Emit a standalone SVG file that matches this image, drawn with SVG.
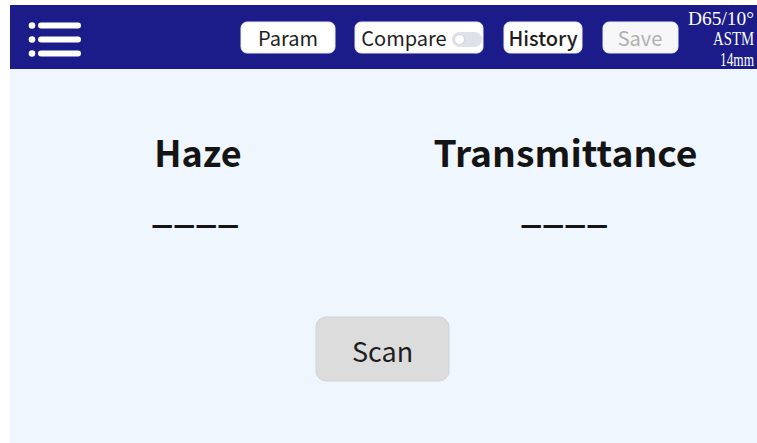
<svg xmlns="http://www.w3.org/2000/svg" width="757" height="443" viewBox="0 0 757 443">
  <style>
    .btn { fill: #ffffff; stroke: #e6e8ef; stroke-width: 1; }
    .btxt { font-family: "Noto Sans CJK SC", "Noto Sans", sans-serif; font-size: 20px; fill: #1e1e1e; text-anchor: middle; }
    .spec { font-family: "Liberation Serif", serif; font-size: 18px; fill: #ffffff; text-anchor: end; }
    .label { font-family: "Noto Sans CJK SC", "Noto Sans", sans-serif; font-size: 36px; font-weight: 700; fill: #141414; text-anchor: middle; }
    .dash { font-family: "Noto Sans CJK SC", "Noto Sans", sans-serif; font-size: 36px; font-weight: 700; fill: #141414; }
    .menu { stroke: #ffffff; stroke-width: 6; stroke-linecap: round; }
  </style>
  <rect x="0" y="0" width="757" height="443" fill="#ffffff"/>
  <rect x="10" y="69" width="747" height="374" fill="#f0f6fd"/>
  <g id="topbar">
    <rect x="10" y="5" width="747" height="64" fill="#1b1c8a"/>
  </g>
  <g id="menu-icon">
    <circle cx="32" cy="25.5" r="3.3" fill="#ffffff"/>
    <circle cx="32" cy="39.5" r="3.3" fill="#ffffff"/>
    <circle cx="32" cy="53.5" r="3.3" fill="#ffffff"/>
    <line class="menu" x1="41" y1="25.5" x2="78" y2="25.5"/>
    <line class="menu" x1="41" y1="39.5" x2="78" y2="39.5"/>
    <line class="menu" x1="41" y1="53.5" x2="78" y2="53.5"/>
  </g>
  <g id="btn-param">
    <rect class="btn" x="241" y="22" width="94" height="31" rx="6"/>
    <text class="btxt" x="288" y="46">Param</text>
  </g>
  <g id="btn-compare">
    <rect class="btn" x="355" y="22" width="128" height="31" rx="6"/>
    <text class="btxt" x="404" y="46">Compare</text>
    <rect x="452" y="32" width="30" height="15" rx="7.5" fill="#dde1e8"/>
    <circle cx="459.5" cy="39.5" r="5" fill="#ffffff" stroke="#d0d4dc" stroke-width="1"/>
  </g>
  <g id="btn-history">
    <rect class="btn" x="504" y="22" width="78" height="31" rx="6"/>
    <text class="btxt" x="543" y="46" style="font-weight:500">History</text>
  </g>
  <g id="btn-save">
    <rect class="btn" x="603" y="22" width="75" height="31" rx="6" style="fill:#f7f7f9"/>
    <text class="btxt" x="640" y="46" style="fill:#b0b0b0">Save</text>
  </g>
  <g id="spec">
    <text class="spec" transform="translate(754,25) scale(1.08,1)" x="0" y="0">D65/10°</text>
    <text class="spec" transform="translate(754,45) scale(0.82,1)" x="0" y="0">ASTM</text>
    <text class="spec" transform="translate(754,66) scale(0.74,1)" x="0" y="0">14mm</text>
  </g>
  <g id="haze">
    <text class="label" x="198" y="167">Haze</text>
    <text class="dash" x="152 174 196 218" y="222">____</text>
  </g>
  <g id="transmittance">
    <text class="label" x="565.5" y="167" textLength="264" lengthAdjust="spacingAndGlyphs">Transmittance</text>
    <text class="dash" x="521 543 565 587" y="222">____</text>
  </g>
  <g id="btn-scan">
    <rect x="316" y="317" width="133" height="64" rx="10" fill="#dcdcdc" stroke="#d0d3d8" stroke-width="1"/>
    <text x="382.5" y="362" font-family="Noto Sans CJK SC, Noto Sans, sans-serif" font-size="27" fill="#1e1e1e" text-anchor="middle">Scan</text>
  </g>
  <g id="connectors"></g>
</svg>
